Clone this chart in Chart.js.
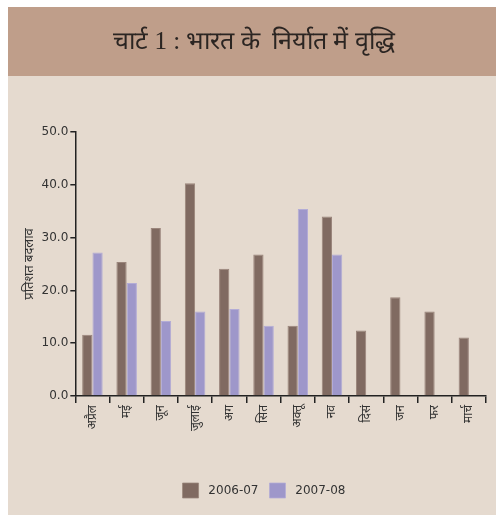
<!DOCTYPE html>
<html>
<head>
<meta charset="utf-8">
<script src="https://cdn.jsdelivr.net/npm/chart.js@4/dist/chart.umd.min.js"></script>
<style>
html,body{margin:0;padding:0;background:#fff;}
#wrap{position:relative;width:496px;height:515px;}
canvas{display:block;}
</style>
</head>
<body>
<div id="wrap"><canvas id="c" width="496" height="515"></canvas></div>
<script>
const titleText = 'चार्ट 1 : भारत के  निर्यात में वृद्धि';
const yAxisTitle = 'प्रतिशत बदलाव';
const months = ['अप्रैल','मई','जून','जुलाई','अग','सित','अक्तू','नव','दिसं','जन','फर','मार्च'];
const seriesNames = ['2006-07','2007-08'];
const values0607 = [11.6, 25.4, 31.8, 40.3, 24.1, 26.8, 13.3, 34.0, 12.4, 18.7, 16.0, 11.1];
const values0708 = [27.2, 21.4, 14.2, 16.0, 16.5, 13.3, 35.4, 26.8, null, null, null, null];
const yTicks = [0, 10, 20, 30, 40, 50];

const bgPlugin = {
  id: 'bg',
  afterLayout(chart) {
    if (chart.legend) { chart.legend.left += 12; chart.legend.right += 12; }
  },
  beforeDraw(chart) {
    const ctx = chart.ctx;
    ctx.save();
    ctx.fillStyle = '#ffffff';
    ctx.fillRect(0, 0, chart.width, chart.height);
    ctx.fillStyle = '#e5dacf';
    ctx.fillRect(8, 7, chart.width - 8, chart.height - 7);
    ctx.fillStyle = '#bf9e8a';
    ctx.fillRect(8, 7, chart.width - 8, 69);
    ctx.fillStyle = '#2b2522';
    ctx.font = '25px "Liberation Serif", "DejaVu Serif", serif';
    ctx.textAlign = 'center';
    ctx.textBaseline = 'middle';
    ctx.fillText(titleText, 254, 42);
    ctx.restore();
  }
};

new Chart(document.getElementById('c'), {
  type: 'bar',
  data: {
    labels: months,
    datasets: [
      { label: ' ' + seriesNames[0], data: values0607, backgroundColor: '#806a61', borderColor: '#9a857b', borderWidth: {top:1,left:1,right:1,bottom:0} },
      { label: ' ' + seriesNames[1], data: values0708, backgroundColor: '#9e97ca', borderColor: '#b3acd6', borderWidth: {top:1,left:1,right:1,bottom:0} }
    ]
  },
  plugins: [bgPlugin],
  options: {
    responsive: false,
    animation: false,
    devicePixelRatio: 1,
    layout: { padding: { top: 132, left: 18, right: 10, bottom: 7 } },
    datasets: { bar: { categoryPercentage: 0.6, barPercentage: 1.0 } },
    plugins: {
      legend: {
        position: 'bottom',
        labels: {
          boxWidth: 16, boxHeight: 15, padding: 11,
          color: '#333',
          font: { family: '"DejaVu Sans", sans-serif', size: 12 }
        }
      },
      tooltip: { enabled: false }
    },
    scales: {
      x: {
        offset: true,
        grid: { display: true, offset: true, drawOnChartArea: false, drawTicks: true, tickLength: 7, color: '#222', lineWidth: 1.5 },
        border: { display: true, color: '#222', width: 1.5 },
        ticks: { minRotation: 90, maxRotation: 90, color: '#333', padding: 2,
          font: { family: '"Noto Sans", "DejaVu Sans", sans-serif', size: 12 } },
        afterFit(scale) { scale.height = 76; }
      },
      y: {
        min: 0, max: 50,
        afterBuildTicks(scale) { scale.ticks = yTicks.map(v => ({ value: v })); },
        grid: { display: true, drawOnChartArea: false, drawTicks: true, tickLength: 5, color: '#222', lineWidth: 1.5 },
        border: { display: true, color: '#222', width: 1.5 },
        ticks: { color: '#333', padding: 2,
          font: { family: '"DejaVu Sans", sans-serif', size: 12 },
          callback: v => Number(v).toFixed(1) },
        title: { display: true, text: yAxisTitle, color: '#333', padding: { top: 3, bottom: 3 },
          font: { family: '"Noto Sans", "DejaVu Sans", sans-serif', size: 13 } }
      }
    }
  }
});
</script>
</body>
</html>
